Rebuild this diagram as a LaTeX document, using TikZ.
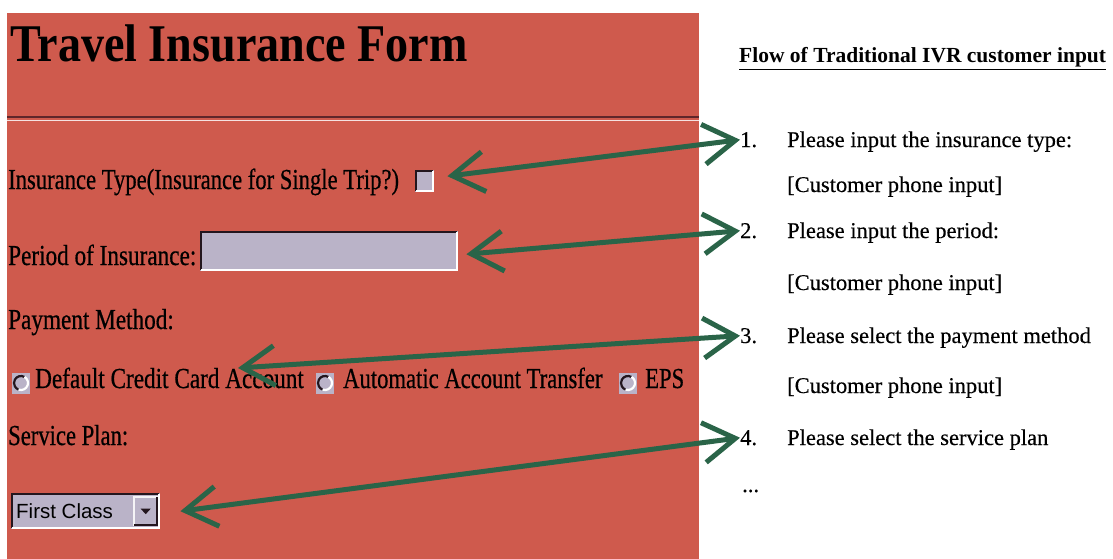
\documentclass[tikz,border=0pt]{standalone}
\usepackage{fontspec}
\usepackage{graphicx}
\setmainfont{Liberation Serif}
\newfontfamily\uisans{Liberation Sans}
\newfontfamily\formserif[FakeBold=0.6]{Liberation Serif}
\newfontfamily\flowserif[FakeBold=0.3]{Liberation Serif}
\usetikzlibrary{arrows.meta}

\definecolor{formred}{RGB}{207,90,77}
\definecolor{widget}{RGB}{186,179,200}
\definecolor{bevel}{RGB}{35,22,30}
\definecolor{pointer}{RGB}{42,100,72}
\definecolor{ruledark}{RGB}{95,38,42}
\definecolor{ruleligh}{RGB}{245,225,225}

% horizontally condensed text, as the browser renders the form
\newcommand{\narrow}[2][0.78]{\scalebox{#1}[1]{#2}}
% sunken 3D frame: dark top/left, light bottom/right
\newcommand{\sunkenframe}[1]{%
  \draw[bevel, line width=2.5pt] ([shift={(1.2pt,1.2pt)}]#1.south west) -- ([shift={(1.2pt,-1.2pt)}]#1.north west) -- ([shift={(-1.2pt,-1.2pt)}]#1.north east);
  \draw[white, line width=2.5pt] ([shift={(-1.2pt,-1.2pt)}]#1.north east) -- ([shift={(-1.2pt,1.2pt)}]#1.south east) -- ([shift={(1.2pt,1.2pt)}]#1.south west);}
% raised 3D frame: light top/left, dark bottom/right
\newcommand{\raisedframe}[1]{%
  \draw[white!85!widget, line width=1.5pt] ([shift={(0.8pt,0.8pt)}]#1.south west) -- ([shift={(0.8pt,-0.8pt)}]#1.north west) -- ([shift={(-0.8pt,-0.8pt)}]#1.north east);
  \draw[bevel, line width=2.5pt] ([shift={(-1.2pt,-1.2pt)}]#1.north east) -- ([shift={(-1.2pt,1.2pt)}]#1.south east) -- ([shift={(1.2pt,1.2pt)}]#1.south west);}
% radio button with a shaded ring
\newcommand{\radioring}[1]{%
  \draw[bevel, line width=2.2pt] ([shift={(60:7pt)}]#1.center) arc[start angle=60, end angle=250, radius=7pt];
  \draw[white, line width=2.2pt] ([shift={(250:7pt)}]#1.center) arc[start angle=250, end angle=420, radius=7pt];}

\begin{document}
\begin{tikzpicture}[x=1pt,y=-1pt,
  formtext/.style={inner sep=0pt, anchor=base west, font=\formserif\fontsize{29}{34}\selectfont},
  flowtext/.style={inner sep=0pt, anchor=base west, font=\flowserif\fontsize{22.5}{27}\selectfont},
  widgetbox/.style={fill=widget, draw=none, inner sep=0pt, anchor=north west},
  radiobox/.style={fill=widget, draw=none, inner sep=0pt, minimum width=18pt, minimum height=21pt},
  link/.style={pointer, line width=5pt,
    {Straight Barb[length=32pt,width=40pt]}-{Straight Barb[length=32pt,width=40pt]}},
]
\useasboundingbox (0,0) rectangle (1113,559);
\fill[white] (0,0) rectangle (1113,559);

% ---------- web form ----------
\fill[formred] (7,13) rectangle (699,559);
\node[inner sep=0pt, anchor=base west, font=\fontsize{53}{60}\selectfont\bfseries]
  (title) at (10,62) {\narrow[0.87]{Travel Insurance Form}};
\draw[ruledark, line width=2pt] (7,117.5) -- (699,117.5);
\draw[ruleligh, line width=1.5pt] (7,120.5) -- (699,120.5);

\node[formtext] (itype) at (8,189) {\narrow{Insurance Type(Insurance for Single Trip?)}};
\node[widgetbox, minimum width=19pt, minimum height=22pt] (cb) at (415,170) {};
\sunkenframe{cb}

\node[formtext] (period) at (8,265) {\narrow[0.8]{Period of Insurance:}};
\node[widgetbox, minimum width=258pt, minimum height=40pt] (tb) at (200,231) {};
\sunkenframe{tb}

\node[formtext] (pay) at (8,329) {\narrow[0.8]{Payment Method:}};
\node[radiobox] (r1) at (21,383) {};
\radioring{r1}
\node[formtext] (dc) at (35,388) {\narrow[0.8]{Default Credit Card Account}};
\node[radiobox] (r2) at (325,383) {};
\radioring{r2}
\node[formtext] (aat) at (343,388) {\narrow{Automatic Account Transfer}};
\node[radiobox] (r3) at (628,383) {};
\radioring{r3}
\node[formtext] (eps) at (645,388) {\narrow{EPS}};

\node[formtext] (svc) at (8,445) {\narrow{Service Plan:}};
\node[widgetbox, minimum width=149pt, minimum height=36pt] (dd) at (11,493) {};
\sunkenframe{dd}
\node[widgetbox, minimum width=25pt, minimum height=30pt] (ddbtn) at (133,496) {};
\raisedframe{ddbtn}
\fill[bevel] ([shift={(-5pt,2.5pt)}]ddbtn.center) -- ([shift={(5pt,2.5pt)}]ddbtn.center)
  -- ([shift={(0pt,-3pt)}]ddbtn.center) -- cycle;
\node[inner sep=0pt, anchor=base west, font=\uisans\fontsize{20.5}{24}\selectfont]
  (ddtext) at (16,518) {First Class};

% ---------- IVR flow ----------
\node[inner sep=0pt, anchor=base west, font=\fontsize{21.5}{26}\selectfont\bfseries]
  (flowhead) at (739,63) {\underline{Flow of Traditional IVR customer input}};
\node[flowtext] (n1) at (740,147) {1.};
\node[flowtext] (t1) at (787,147) {Please input the insurance type:};
\node[flowtext] (c1) at (787,192) {[Customer phone input]};
\node[flowtext] (n2) at (740,238) {2.};
\node[flowtext] (t2) at (787,238) {Please input the period:};
\node[flowtext] (c2) at (787,290) {[Customer phone input]};
\node[flowtext] (n3) at (740,343) {3.};
\node[flowtext] (t3) at (787,343) {Please select the payment method};
\node[flowtext] (c3) at (787,393) {[Customer phone input]};
\node[flowtext] (n4) at (740,445) {4.};
\node[flowtext] (t4) at (787,445) {Please select the service plan};
\node[flowtext] (more) at (742,492) {...};

% ---------- links between form fields and prompts ----------
\coordinate (payhit) at (238,368);
\draw[link] ([shift={(13pt,5pt)}]cb.east) -- (n1.west);
\draw[link] ([shift={(8pt,-3pt)}]tb.east) -- (n2.west);
\draw[link] (payhit) -- (n3.west);
\draw[link] ([shift={(20pt,0pt)}]dd.east) -- (n4.west);
\end{tikzpicture}
\end{document}
